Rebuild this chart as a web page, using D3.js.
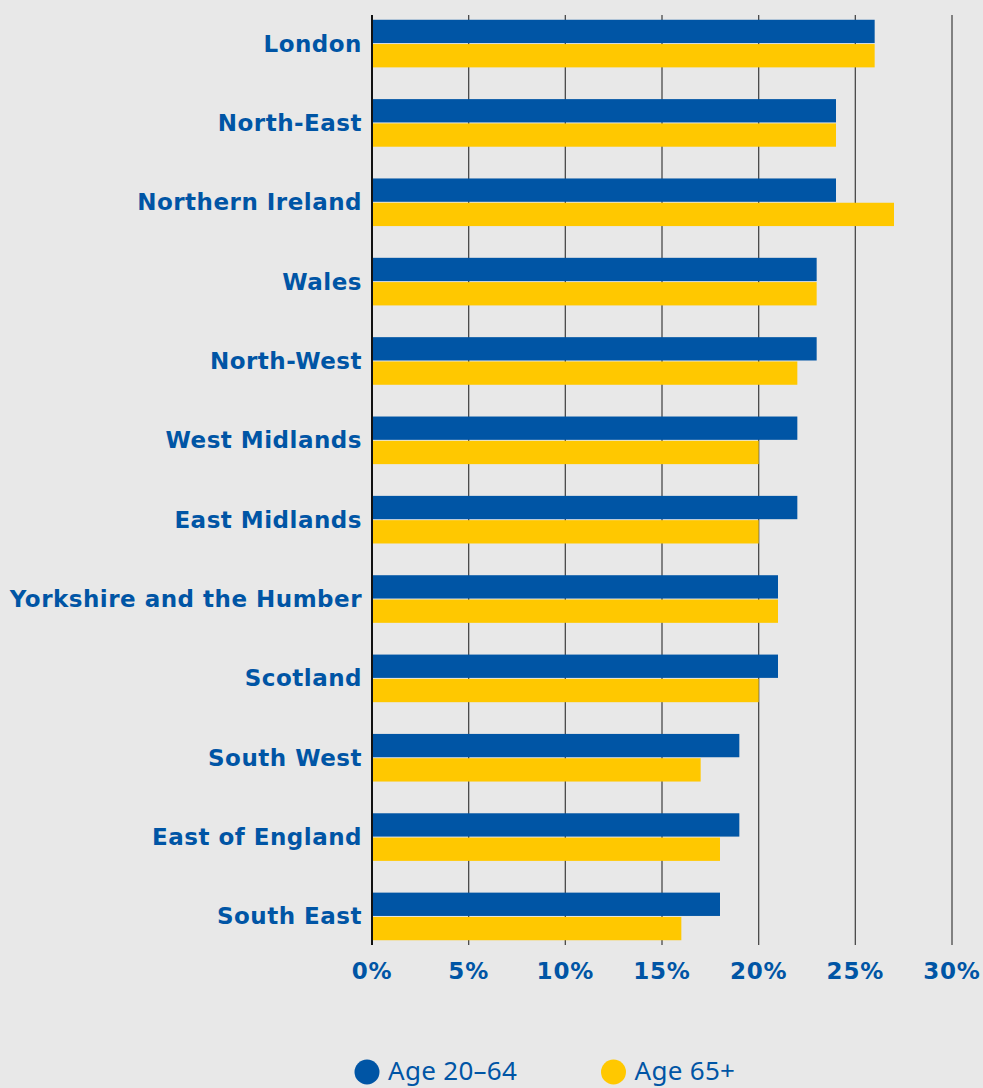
<!DOCTYPE html>
<html>
<head>
<meta charset="utf-8">
<script src="https://cdn.jsdelivr.net/npm/d3@7"></script>
<style>
  body { margin: 0; background: #e8e8e8; }
  svg { display: block; }
</style>
</head>
<body>
<div id="container"></div>
<script>
const regions = ["London", "North-East", "Northern Ireland", "Wales", "North-West", "West Midlands",
  "East Midlands", "Yorkshire and the Humber", "Scotland", "South West", "East of England", "South East"];
const age2064 = [26, 24, 24, 23, 23, 22, 22, 21, 21, 19, 19, 18];
const age65 = [26, 24, 27, 23, 22, 20, 20, 21, 20, 17, 18, 16];
const seriesNames = ["Age 20–64", "Age 65+"];
const xTicks = [0, 5, 10, 15, 20, 25, 30];

const w = 983;
const h = 1088;
const blue = "#0055a5";
const yellow = "#ffc800";
const labelFont = "'DejaVu Sans', sans-serif";

const svg = d3.select("#container").append("svg")
              .attr("width", w).attr("height", h);
svg.append("rect").attr("width", w).attr("height", h).attr("fill", "#e8e8e8");

const data = regions.map((r, i) => ({ region: r, values: [age2064[i], age65[i]] }));

const x = d3.scaleLinear().domain([0, 30]).range([372, 952]);
const y = d3.scaleBand().domain(regions).range([15, 945])
            .paddingInner(0.4).paddingOuter(0.06);
const ySub = d3.scaleBand().domain([0, 1]).range([0, y.bandwidth()]).paddingInner(0.04);
const colors = [blue, yellow];

// gridlines
svg.append("g").selectAll("line").data(xTicks.slice(1)).enter().append("line")
   .attr("x1", d => x(d)).attr("x2", d => x(d))
   .attr("y1", 15).attr("y2", 945)
   .attr("stroke", "#4a4a4a").attr("stroke-width", 1.3);

// bars
const groups = svg.append("g").selectAll("g").data(data).enter().append("g")
   .attr("transform", d => "translate(0," + y(d.region) + ")");
groups.selectAll("rect").data(d => d.values).enter().append("rect")
   .attr("x", x(0))
   .attr("y", (d, i) => ySub(i))
   .attr("width", d => x(d) - x(0))
   .attr("height", ySub.bandwidth())
   .attr("fill", (d, i) => colors[i]);

// zero axis line
svg.append("line")
   .attr("x1", x(0)).attr("x2", x(0)).attr("y1", 15).attr("y2", 945)
   .attr("stroke", "#111").attr("stroke-width", 2);

// category labels
svg.append("g").selectAll("text").data(regions).enter().append("text")
   .attr("x", 362)
   .attr("y", d => y(d) + y.bandwidth() / 2)
   .attr("dy", "0.35em")
   .attr("text-anchor", "end")
   .attr("font-family", labelFont)
   .attr("font-weight", 700)
   .attr("font-size", 23)
   .attr("letter-spacing", 0.5)
   .attr("fill", blue)
   .text(d => d);

// x tick labels
svg.append("g").selectAll("text").data(xTicks).enter().append("text")
   .attr("x", d => x(d))
   .attr("y", 971)
   .attr("dy", "0.35em")
   .attr("text-anchor", "middle")
   .attr("font-family", labelFont)
   .attr("font-weight", 700)
   .attr("font-size", 23)
   .attr("letter-spacing", 0.8)
   .attr("fill", blue)
   .text(d => d + "%");

// legend
const legend = svg.append("g").selectAll("g").data(seriesNames).enter().append("g")
   .attr("transform", (d, i) => "translate(" + (367 + i * 246.5) + ",1072)");
legend.append("circle").attr("r", 12.5).attr("fill", (d, i) => colors[i]);
legend.append("text")
   .attr("x", 21).attr("y", 8)
   .attr("font-family", "'Noto Sans', sans-serif")
   .attr("font-size", 26)
   .attr("letter-spacing", 0.3)
   .attr("fill", blue)
   .text(d => d);
</script>
</body>
</html>
